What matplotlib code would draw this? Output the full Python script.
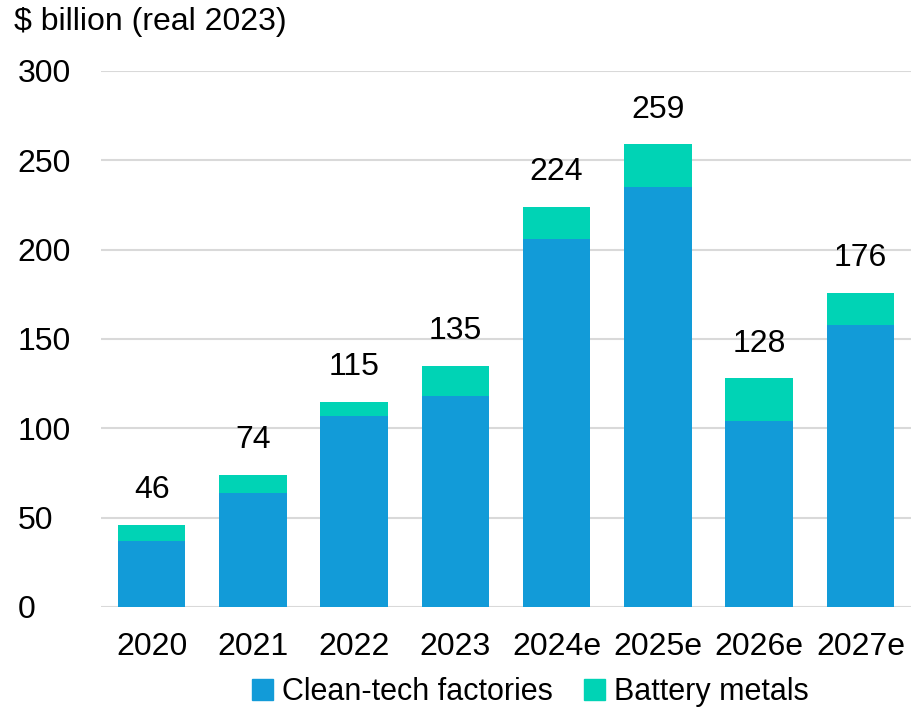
import matplotlib
matplotlib.use("Agg")
import matplotlib.pyplot as plt
from matplotlib.patches import Patch

plt.rcParams["font.family"] = ["Liberation Sans", "DejaVu Sans"]

years = ["2020", "2021", "2022", "2023", "2024e", "2025e", "2026e", "2027e"]
clean_tech = [37, 64, 107, 118, 206, 235, 104, 158]
battery_metals = [9, 10, 8, 17, 18, 24, 24, 18]
totals = [46, 74, 115, 135, 224, 259, 128, 176]

BLUE = "#129BD8"
TEAL = "#00D3B5"
FS = 23

fig = plt.figure(figsize=(9.11, 7.10), dpi=100)
ax = fig.add_axes([101 / 911, 103 / 710, 810 / 911, 536 / 710])

x = list(range(len(years)))
w = 0.667
ax.bar(x, clean_tech, width=w, color=BLUE, zorder=3)
ax.bar(x, battery_metals, width=w, bottom=clean_tech, color=TEAL, zorder=3)

for xi, t in zip(x, totals):
    ax.text(xi, t + 11, str(t), ha="center", va="bottom", fontsize=FS, color="black")

ax.set_ylim(0, 300)
ax.set_xlim(-0.5, len(years) - 0.5)
ax.set_yticks(range(0, 301, 50))
ax.yaxis.grid(True, color="#D9D9D9", linewidth=1.5, zorder=0)
ax.set_axisbelow(True)
ax.set_xticks(x)
ax.set_xticklabels(years)
ax.tick_params(axis="both", length=0, labelsize=FS)
ax.tick_params(axis="x", pad=18)
ax.tick_params(axis="y", pad=60)
for lbl in ax.get_yticklabels():
    lbl.set_horizontalalignment("left")
for s in ax.spines.values():
    s.set_visible(False)

fig.text(14 / 911, 1 - 22 / 710, "$ billion (real 2023)", fontsize=FS, va="center", ha="left")

handles = [Patch(color=BLUE, label="Clean-tech factories"),
           Patch(color=TEAL, label="Battery metals")]
fig.legend(handles=handles, loc="center", bbox_to_anchor=(0.582, 1 - 692 / 710), ncol=2,
           frameon=False, fontsize=22, handlelength=0.7, handleheight=0.7,
           handletextpad=0.3, columnspacing=1.0)

fig.savefig("out.png", dpi=100)
